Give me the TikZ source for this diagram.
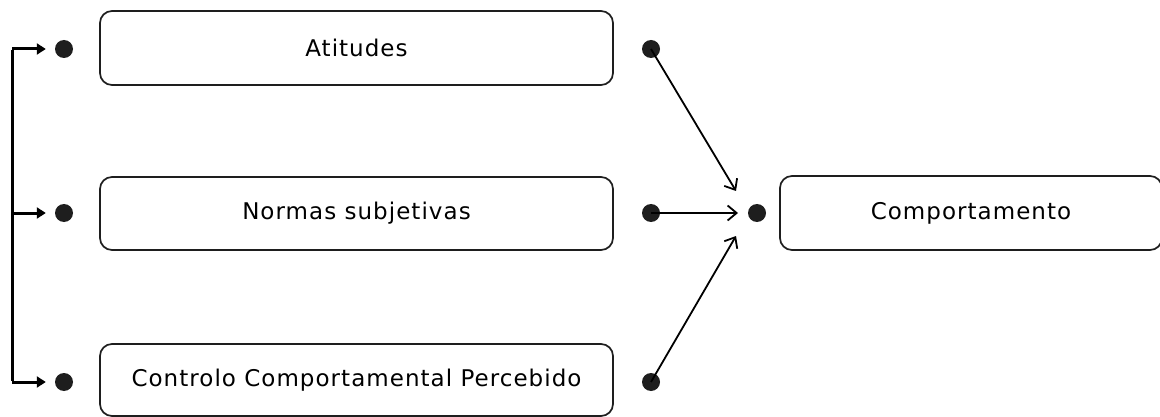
\documentclass[tikz,border=0pt]{standalone}
\usepackage{fontspec}
\setmainfont[LetterSpace=4.5]{DejaVu Sans}
\usetikzlibrary{arrows.meta}
\definecolor{ink}{HTML}{1E1E1E}
\tikzset{
  box/.style={draw=ink, line width=1.7pt, rounded corners=12pt, inner sep=0pt, font=\fontsize{23}{27}\selectfont, text=black},
  dot/.style={circle, fill=ink, inner sep=0pt, minimum size=18pt},
  link/.style={draw=black, line width=1.8pt, -{Straight Barb[length=9pt,width=15pt,line width=1.8pt]}},
  feed/.style={draw=black, line width=3pt, -{Triangle[length=9pt,width=11pt]}}
}
\begin{document}
\begin{tikzpicture}[x=1pt,y=-1pt]
\useasboundingbox (0,0) rectangle (1160,417);
\node[box, minimum width=513pt, minimum height=74pt] (a) at (356.5,48) {Atitudes};
\node[box, minimum width=513pt, minimum height=73pt] (n) at (356.5,213.5) {Normas subjetivas};
\node[box, minimum width=513pt, minimum height=72pt] (p) at (356.5,380) {Controlo Comportamental Percebido};
\node[box, minimum width=382pt, minimum height=74pt] (c) at (971,213) {Comportamento};
\node[dot] (la) at (64,49) {};
\node[dot] (ln) at (64,213) {};
\node[dot] (lp) at (64,382) {};
\node[dot] (ra) at (651,49) {};
\node[dot] (rn) at (651,213) {};
\node[dot] (rp) at (651,382) {};
\node[dot] (cd) at (757,213) {};
\coordinate (ta) at (736,191);
\coordinate (tn) at (738,213);
\coordinate (tp) at (736,236);
\draw[link] (ra.center) -- (ta);
\draw[link] (rn.center) -- (tn);
\draw[link] (rp.center) -- (tp);
\coordinate (ka) at (12,49);
\coordinate (kp) at (12,382);
\coordinate (kn) at (12,213);
\draw[line width=3pt] ([yshift=-1.5pt]ka) -- ([yshift=1.5pt]kp);
\draw[feed, shorten >=9pt] (ka) -- (la.west);
\draw[feed, shorten >=9pt] (kn) -- (ln.west);
\draw[feed, shorten >=9pt] (kp) -- (lp.west);
\end{tikzpicture}
\end{document}
